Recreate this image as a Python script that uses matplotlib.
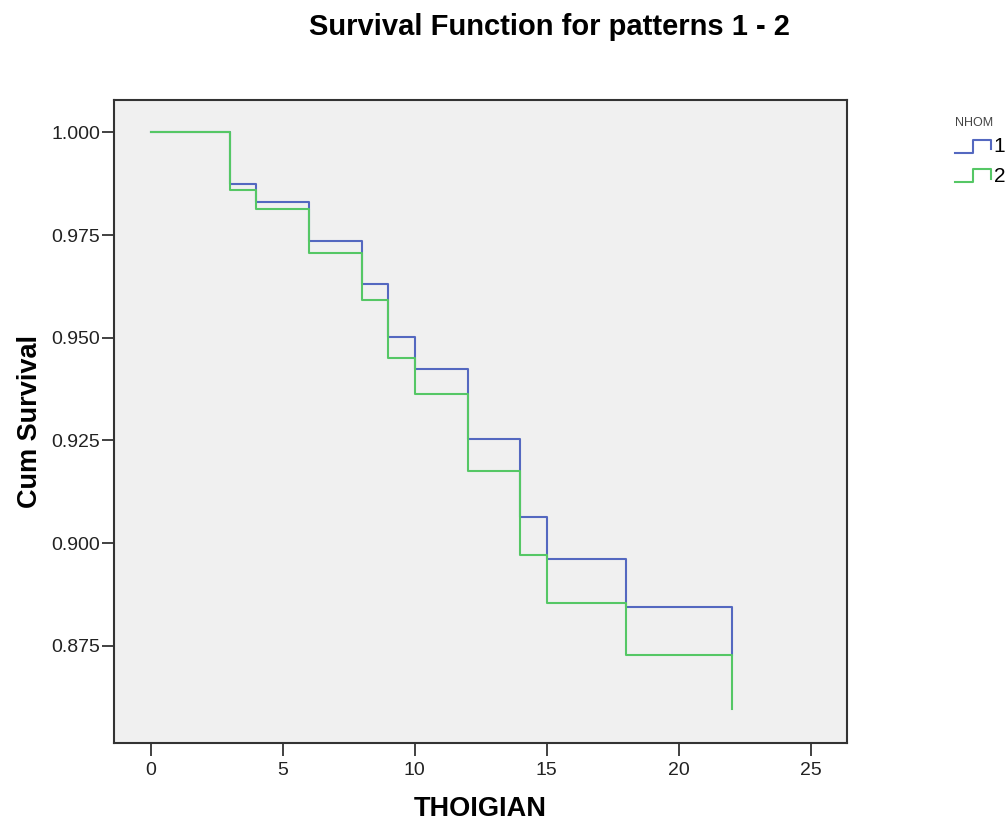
import matplotlib
matplotlib.use("Agg")
import matplotlib.pyplot as plt
from matplotlib.legend_handler import HandlerBase
from matplotlib.lines import Line2D

plt.rcParams['font.family'] = ['Liberation Sans', 'DejaVu Sans']

# czasy zdarzen i skumulowane przezycie
times = [0, 3, 4, 6, 8, 9, 10, 12, 14, 15, 18, 22]
surv_1 = [1.000, 0.9874, 0.9831, 0.9735, 0.9631, 0.9502, 0.9424, 0.9253, 0.9064, 0.8961, 0.8845, 0.8728]
times_2 = [0, 3, 4, 6, 8, 9, 10, 12, 14, 15, 18, 22, 22]
surv_2 = [1.000, 0.9861, 0.9813, 0.9707, 0.9592, 0.9451, 0.9363, 0.9176, 0.8970, 0.8855, 0.8728, 0.8728, 0.8595]
groups = ['1', '2']
colors = ['#5468C0', '#55C765']

x_ticks = [0, 5, 10, 15, 20, 25]
y_ticks = [0.875, 0.900, 0.925, 0.950, 0.975, 1.000]


class StepHandler(HandlerBase):
    # ikonka legendy w ksztalcie schodka
    def create_artists(self, legend, orig_handle, xdescent, ydescent,
                       width, height, fontsize, trans):
        x0 = -xdescent
        y0 = -ydescent
        xs = [x0, x0 + 0.5 * width, x0 + 0.5 * width, x0 + width, x0 + width]
        ys = [y0 - 0.05 * height, y0 - 0.05 * height, y0 + 0.85 * height,
              y0 + 0.85 * height, y0 + 0.2 * height]
        ln = Line2D(xs, ys, color=orig_handle.get_color(),
                    linewidth=orig_handle.get_linewidth(), transform=trans)
        return [ln]


fig = plt.figure(figsize=(10.06, 8.25), dpi=100)
ax = fig.add_axes([0.1133, 0.0994, 0.7284, 0.7794])
ax.set_facecolor('#F0F0F0')

h1, = ax.step(times, surv_1, where='post', color=colors[0], linewidth=1.5)
h2, = ax.step(times_2, surv_2, where='post', color=colors[1], linewidth=1.5)
handles = [h1, h2]

ax.set_xlim(-1.39, 26.36)
ax.set_ylim(0.8513, 1.0079)
ax.set_xticks(x_ticks)
ax.set_yticks(y_ticks)
ax.set_yticklabels([f'{v:.3f}' for v in y_ticks])
ax.tick_params(direction='out', length=9, width=1.3, color='#333333',
               labelsize=14, pad=5, labelcolor='#222222')
ax.tick_params(axis='y', pad=1)
for s in ax.spines.values():
    s.set_color('#333333')
    s.set_linewidth(1.5)

ax.set_xlabel('THOIGIAN', fontsize=19.5, fontweight='bold', labelpad=12)
ax.set_ylabel('Cum Survival', fontsize=19.5, fontweight='bold', labelpad=6)

fig.text(0.5457, 0.967, 'Survival Function for patterns 1 - 2',
         fontsize=21, fontweight='bold', ha='center', va='center')

leg = fig.legend(handles, groups, handler_map={Line2D: StepHandler()},
                 loc='upper left', bbox_to_anchor=(955 / 1006, 1 - 117 / 825),
                 frameon=False, fontsize=15, handlelength=1.75,
                 handletextpad=0.1, labelspacing=0.5, borderpad=0,
                 borderaxespad=0, title='NHOM', alignment='left')
leg.get_title().set_fontsize(9)
leg.get_title().set_color('#444444')
leg._legend_box.sep = 6

fig.savefig('out.png', dpi=100)
